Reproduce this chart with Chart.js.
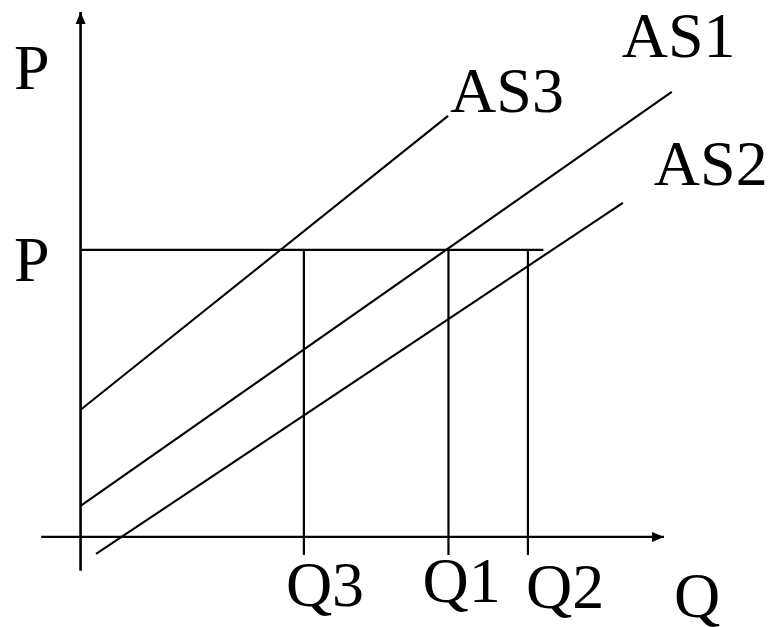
<!DOCTYPE html>
<html>
<head>
<meta charset="utf-8">
<script src="https://cdn.jsdelivr.net/npm/chart.js@4.4.1/dist/chart.umd.min.js"></script>
<style>
  html, body { margin:0; padding:0; background:#fff; }
  #wrap { width:770px; height:627px; }
  .fontwarm { font-family:"Liberation Serif"; font-size:64px; position:absolute; left:-9999px; top:0; }
</style>
</head>
<body>
<span class="fontwarm">PQAS123</span>
<div id="wrap"><canvas id="asChart" width="770" height="627"></canvas></div>
<script>
/* ==========================================
   AS shift diagram (units: Q1 = 10, P = 10)
========================================== */

const qNames = ["Q3", "Q1", "Q2"];
const qValues = [6.07, 10, 12.16];
const qFloor = -0.63;

const priceLevel = 10;
const priceEnd = 12.58;

const supplyNames = ["AS3", "AS1", "AS2"];
const supplyStartQ = [0, 0, 0.42];
const supplyStartP = [4.43, 1.08, -0.59];
const supplyEndQ = [9.99, 16.07, 14.74];
const supplyEndP = [14.67, 15.51, 11.64];

const qAxisRange = [-1.07, 15.86];
const pAxisRange = [-1.18, 18.29];

const axisTitles = ["P", "Q"];

/* label offsets from their anchors, px: [dx, dy] */
const OFFSETS = {
  P: [-66.5, 77], price: [-66.5, 31.5],
  AS3: [2, -4], AS1: [-50, -35], AS2: [31, -18],
  Q3: [-18, 69], Q1: [-26, 65], Q2: [-2, 71], Q: [10, 80]
};

const INK = "#000";
const FONT = '64px "Liberation Serif"';

function seg(x1, y1, x2, y2, w){
  return {
    data: [{x:x1, y:y1}, {x:x2, y:y2}],
    borderColor: INK,
    borderWidth: w || 2,
    pointRadius: 0,
    showLine: true,
    fill: false
  };
}

const datasets = [];

// axes
datasets.push(seg(0, pAxisRange[0], 0, pAxisRange[1], 2.6));
datasets.push(seg(qAxisRange[0], 0, qAxisRange[1], 0, 2.2));

// price line
datasets.push(seg(0, priceLevel, priceEnd, priceLevel, 2.2));

// quantity drop lines
qValues.forEach(q=>{
  datasets.push(seg(q, qFloor, q, priceLevel, 2.2));
});

// supply curves
supplyNames.forEach((n,i)=>{
  datasets.push(seg(supplyStartQ[i], supplyStartP[i], supplyEndQ[i], supplyEndP[i], 2.1));
});

/* arrows + text */
const labelPlugin = {
  id: "labels",
  afterDatasetsDraw(chart){
    const ctx = chart.ctx;
    const xs = chart.scales.x, ys = chart.scales.y;
    const px = v => xs.getPixelForValue(v);
    const py = v => ys.getPixelForValue(v);

    ctx.save();
    ctx.fillStyle = INK;

    // arrow heads
    const ox = px(0), oy = py(0);
    const ty = py(pAxisRange[1]);
    ctx.beginPath();
    ctx.moveTo(ox, ty);
    ctx.lineTo(ox - 5, ty + 12);
    ctx.lineTo(ox + 5, ty + 12);
    ctx.closePath();
    ctx.fill();

    const tx = px(qAxisRange[1]);
    ctx.beginPath();
    ctx.moveTo(tx, oy);
    ctx.lineTo(tx - 12, oy - 5);
    ctx.lineTo(tx - 12, oy + 5);
    ctx.closePath();
    ctx.fill();

    ctx.font = FONT;
    ctx.textAlign = "left";
    ctx.textBaseline = "alphabetic";

    function put(text, key, ax, ay){
      const o = OFFSETS[key];
      ctx.fillText(text, ax + o[0], ay + o[1]);
    }

    put(axisTitles[0], "P", ox, ty);
    put("P", "price", ox, py(priceLevel));
    put(axisTitles[1], "Q", tx, oy);

    qNames.forEach((n,i)=> put(n, n, px(qValues[i]), oy));
    supplyNames.forEach((n,i)=> put(n, n, px(supplyEndQ[i]), py(supplyEndP[i])));

    ctx.restore();
  }
};

function draw(){
  new Chart(document.getElementById("asChart"), {
    type: "scatter",
    data: { datasets },
    options: {
      responsive: false,
      animation: false,
      layout: { padding: 0 },
      plugins: { legend: { display:false }, tooltip: { enabled:false } },
      scales: {
        x: { type:"linear", min:-2.19, max:18.74, display:false },
        y: { type:"linear", min:-3.14, max:18.71, display:false }
      }
    },
    plugins: [labelPlugin]
  });
}

document.fonts.load(FONT).then(draw, draw);
</script>
</body>
</html>
